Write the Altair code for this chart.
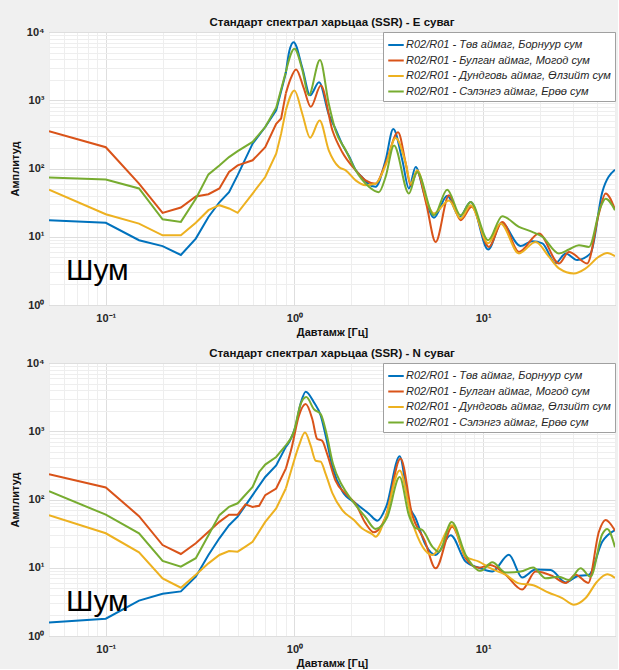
import altair as alt
import pandas as pd

SERIES = [
    "R02/R01 - Төв аймаг, Борнуур сум",
    "R02/R01 - Булган аймаг, Могод сум",
    "R02/R01 - Дундговь аймаг, Өлзийт сум",
    "R02/R01 - Сэлэнгэ аймаг, Ерөө сум",
]
COLORS = ["#0072BD", "#D95319", "#EDB120", "#77AC30"]
TITLES = ["Стандарт спектрал харьцаа (SSR) - E суваг", "Стандарт спектрал харьцаа (SSR) - N суваг"]

# ---- E channel ----
E_BLUE_F = [0.05, 0.1, 0.15, 0.2, 0.25, 0.3, 0.35, 0.4, 0.45, 0.5, 0.6, 0.7, 0.8, 0.9,
            0.94, 0.99, 1.1, 1.21, 1.35, 1.52, 1.65, 1.8, 1.95, 2.11,
            2.29, 2.45, 2.69, 3.04, 3.34, 3.73, 4.04, 4.39, 4.9, 5.49,
            6.45, 7.5, 8.59, 10.64, 12.5, 15.8, 18.2, 20.6, 24.2, 27.4,
            31.5, 37.1, 42.8, 50]
E_BLUE_A = [17.5, 16, 8.9, 7.3, 5.4, 9.4, 19.5, 32, 45, 80, 231, 405, 710, 2500,
            5300, 7100, 3000, 1180, 1840, 620, 380, 220, 150, 95,
            74, 60, 54, 132, 380, 132, 51, 105, 40, 19,
            40, 19.6, 32.4, 6.5, 16, 7.3, 8.6, 8.0, 4.1, 5.7,
            4.55, 5.7, 45, 96]

E_ORANGE_F = [0.05, 0.1, 0.15, 0.2, 0.25, 0.3, 0.35, 0.4, 0.45, 0.5, 0.6, 0.7, 0.8, 0.85, 0.9,
              0.95, 1.02, 1.12, 1.22, 1.38, 1.59, 1.79, 2.11, 2.38, 2.69, 3.04,
              3.54, 3.89, 4.13, 4.47, 5.0, 5.6, 6.59, 7.6, 8.69, 10.73,
              12.62, 15.48, 19.76, 25.23, 28.5, 35.62, 41.09, 44.59, 50]
E_ORANGE_A = [353, 205, 60, 22.4, 26.8, 39, 42, 51, 89, 111, 132, 205, 453, 540, 1260,
              2000, 2830, 1500, 800, 1645, 360, 174, 94, 67, 60, 118,
              340, 118, 57, 89, 30, 8.4, 40.5, 17.5, 27.4, 7.1,
              16.5, 6.0, 11.2, 4.07, 6.0, 4.07, 21.9, 43, 25]

E_YELLOW_F = [0.05, 0.1, 0.15, 0.2, 0.25, 0.3, 0.35, 0.4, 0.45, 0.5, 0.6, 0.7, 0.8, 0.85, 0.9,
              1.0, 1.1, 1.21, 1.36, 1.52, 1.72, 1.87, 2.11, 2.38, 2.69,
              3.04, 3.44, 3.89, 4.13, 4.47, 5.16, 5.49, 6.59, 7.6, 8.59,
              10.64, 12.38, 15.48, 18.97, 22.33, 25.23, 30.29, 34.94, 41.09, 45.47,
              50]
E_YELLOW_A = [49, 21.4, 15.6, 10.5, 10.5, 16, 24.5, 29, 26, 22.4, 43, 75, 165, 324, 710,
              1390, 635, 283, 505, 185, 105, 94, 67, 57, 60,
              111, 280, 118, 60, 94, 27.4, 22, 34, 18.5, 29,
              8, 15.6, 5.7, 8.4, 5.1, 3.44, 2.9, 3.44, 5.1, 5.8,
              5.2]

E_GREEN_F = [0.05, 0.1, 0.15, 0.2, 0.25, 0.3, 0.35, 0.4, 0.45, 0.5, 0.6, 0.7, 0.8, 0.9,
             1.0, 1.1, 1.19, 1.365, 1.52, 1.65, 1.87, 2.11, 2.48, 2.8, 3.04,
             3.37, 4.04, 4.47, 5.49, 6.45, 7.6, 8.59, 10.64, 12.62, 15.48,
             18.2, 20.6, 25.23, 28.5, 32.2, 36.37, 41.95, 44.59, 50]
E_GREEN_A = [74, 69, 51, 18, 16.5, 36, 82, 111, 147, 180, 245, 405, 777, 2600,
             5660, 2800, 1180, 3900, 890, 360, 185, 94, 54, 45, 75,
             218, 43, 89, 20.6, 49, 20.6, 32.4, 8.9, 20, 14,
             11.8, 10, 5.7, 6.5, 7.5, 7.1, 27.4, 36, 24.5]

# ---- N channel ----
N_BLUE_F = [0.05, 0.1, 0.15, 0.2, 0.25, 0.3, 0.35, 0.4, 0.45, 0.5, 0.6, 0.7, 0.8, 0.9,
            0.94, 1.01, 1.08, 1.147, 1.27, 1.38, 1.47, 1.59, 1.79, 2.11,
            2.48, 2.75, 3.07, 3.61, 4.04, 4.39, 4.96, 5.6, 6.73, 8.08,
            9.5, 11.18, 13.7, 16.11, 18.97, 22.8, 27.38, 31.54, 36.37, 42.78,
            50]
N_BLUE_A = [1.58, 1.79, 3.3, 4.15, 4.5, 7.4, 15.4, 27, 42, 56, 116, 214, 316, 590,
            700, 1140, 2600, 3800, 2630, 1680, 815, 300, 133, 88,
            62, 49, 80, 430, 83, 53, 21.5, 15.4, 30, 12.3,
            10, 8.8, 15.5, 7.2, 9.4, 9.3, 6.1, 7.5, 7.9, 24,
            35.6]

N_ORANGE_F = [0.05, 0.1, 0.15, 0.2, 0.25, 0.3, 0.35, 0.4, 0.45, 0.5,
              0.55, 0.6, 0.65, 0.7, 0.8, 0.9, 0.97, 1.056, 1.147, 1.243,
              1.32, 1.40, 1.49, 1.65, 1.87, 2.11, 2.38, 2.64, 3.04, 3.65,
              4.21, 4.9, 5.6, 6.86, 8.08, 9.5, 10.9, 13.16, 16.11, 18.97, 23.24,
              27.38, 30.92, 36.06, 41.09, 44.59, 50]
N_ORANGE_A = [234, 150, 57, 21.5, 15.9, 22.8, 33.7, 47, 60, 60,
              85, 78, 81, 116, 145, 283, 600, 1690, 2500, 1510,
              770, 730, 465, 189, 121, 86, 45, 33, 55, 400,
              59, 25, 9.8, 40, 13.8, 10, 11, 7.9, 4.8, 8.8, 7.6,
              6.0, 7.9, 6.0, 33.7, 50, 35]

N_YELLOW_F = [0.05, 0.1, 0.15, 0.2, 0.25, 0.3, 0.35, 0.4, 0.45, 0.5,
              0.55, 0.6, 0.7, 0.8, 0.9, 0.98, 1.056, 1.137, 1.219, 1.296,
              1.377, 1.463, 1.586, 1.792, 2.067, 2.287, 2.584, 2.69, 3.04, 3.61,
              4.21, 5.38, 6.86, 8.08, 9.5, 10.96, 13.16, 15.48, 18.2, 22.33,
              26.26, 30.29, 34.94, 40.25, 45.47, 50]
N_YELLOW_A = [59, 32, 16.8, 7.0, 5.1, 7.9, 11.6, 15.4, 17.6, 17.2,
              20.4, 24, 47, 74, 145, 320, 615, 960, 615, 370,
              359, 237, 125, 70, 50, 37.5, 31, 28.5, 55, 266,
              47, 15.4, 42, 14.6, 12.3, 9.8, 7.9, 5.9, 5.6, 4.3,
              3.6, 2.88, 3.6, 6.3, 8.0, 7.1]

N_GREEN_F = [0.05, 0.1, 0.15, 0.2, 0.25, 0.3, 0.35, 0.4, 0.45, 0.5,
             0.6, 0.65, 0.7, 0.8, 0.9, 0.994, 1.078, 1.155, 1.269, 1.377,
             1.474, 1.6, 1.79, 2.02, 2.38, 2.69, 3.1, 3.61, 4.04, 4.39,
             4.75, 5.38, 5.83, 6.81, 8.08, 9.7, 11.18, 13.16, 15.8, 18.4,
             21.45, 25.23, 28.5, 32.87, 37.13, 42.78, 45.47, 50]
N_GREEN_A = [132, 60, 32, 12.6, 10.4, 13.8, 30, 59, 78, 88,
             153, 253, 325, 420, 620, 1000, 2500, 3170, 2100, 1780,
             960, 333, 160, 97, 55, 37, 55, 213, 59, 38,
             36, 20.4, 17.2, 47, 15.4, 9.0, 12, 8.5, 8.8, 10.1,
             7.0, 7.4, 6.6, 9.8, 7.4, 31, 37, 20]

NOTE_TEXT = ["Шум"]
NOTE_F = [0.0615]
NOTE_A = [2.32]

X_TICKS = [0.05, 0.06, 0.07, 0.08, 0.09] + [k / 10 for k in range(1, 10)] + list(range(1, 10)) + [10, 20, 30, 40, 50]
Y_TICKS = [m * 10 ** e for e in range(4) for m in range(1, 10)] + [10000]
X_LABELS = "datum.value == 0.1 ? '10⁻¹' : datum.value == 1 ? '10⁰' : datum.value == 10 ? '10¹' : ''"
Y_LABELS = ("datum.value == 1 ? '10⁰' : datum.value == 10 ? '10¹' : datum.value == 100 ? '10²' : "
            "datum.value == 1000 ? '10³' : datum.value == 10000 ? '10⁴' : ''")

PANELS = {
    "E": [(E_BLUE_F, E_BLUE_A), (E_ORANGE_F, E_ORANGE_A), (E_YELLOW_F, E_YELLOW_A), (E_GREEN_F, E_GREEN_A)],
    "N": [(N_BLUE_F, N_BLUE_A), (N_ORANGE_F, N_ORANGE_A), (N_YELLOW_F, N_YELLOW_A), (N_GREEN_F, N_GREEN_A)],
}

FONT = "Liberation Sans"
MAJOR = "indexof([0.1, 1, 10, 100, 1000, 10000], datum.value) >= 0"


def make_panel(key, title):
    rows = []
    for name, (fs, amps) in zip(SERIES, PANELS[key]):
        assert len(fs) == len(amps), (key, name)
        for f, a in zip(fs, amps):
            rows.append({"series": name, "f": f, "A": a})
    df = pd.DataFrame(rows)
    notes = pd.DataFrame({"f": NOTE_F, "A": NOTE_A, "t": NOTE_TEXT})

    x = alt.X("f:Q",
              scale=alt.Scale(type="log", domain=[0.05, 50], nice=False),
              axis=alt.Axis(values=X_TICKS, labelExpr=X_LABELS, title="Давтамж [Гц]",
                            grid=True, ticks=False, domain=False, labelOverlap=False,
                            labelFlush=False, labelPadding=7, titlePadding=3,
                            gridColor={"condition": {"test": MAJOR, "value": "#dedede"}, "value": "#eeeeee"}))
    y = alt.Y("A:Q",
              scale=alt.Scale(type="log", domain=[1, 10000], nice=False),
              axis=alt.Axis(values=Y_TICKS, labelExpr=Y_LABELS, title="Амплитуд",
                            grid=True, ticks=False, domain=False, labelOverlap=False,
                            labelFlush=False, labelPadding=5, titlePadding=6,
                            gridColor={"condition": {"test": MAJOR, "value": "#dedede"}, "value": "#eeeeee"}))
    color = alt.Color("series:N", sort=SERIES,
                      scale=alt.Scale(domain=SERIES, range=COLORS),
                      legend=alt.Legend(title=None, orient="top-right", offset=0, padding=4,
                                        fillColor="white", strokeColor="#a0a0a0",
                                        symbolType="stroke", symbolStrokeWidth=2, symbolSize=240,
                                        labelFont=FONT, labelFontSize=11, labelFontStyle="italic",
                                        labelColor="#262626", rowPadding=1.5, labelOffset=1,
                                        labelLimit=300))
    base = alt.Chart(df)
    low = base.transform_filter("datum.f <= 0.9").mark_line(
        interpolate="linear", strokeWidth=2, clip=True).encode(x=x, y=y, color=color)
    high = base.transform_filter("datum.f >= 0.9").mark_line(
        interpolate="monotone", strokeWidth=2, clip=True).encode(x=x, y=y, color=color)
    txt = alt.Chart(notes).mark_text(align="left", baseline="alphabetic", fontSize=30,
                                     font=FONT, color="black").encode(x=x, y=y, text="t:N")
    return alt.layer(low, high, txt).properties(width=566, height=273, title=title)


chart = alt.vconcat(make_panel("E", TITLES[0]), make_panel("N", TITLES[1]), spacing=9).resolve_legend(
    color="independent"
).properties(
    padding={"left": 8, "top": 16, "right": 2, "bottom": 0},
    background="#f0f0f0",
).configure_view(
    fill="white", stroke="#b0b0b0"
).configure_axis(
    labelFont=FONT, labelFontSize=11, labelFontWeight="bold", labelColor="#262626",
    titleFont=FONT, titleFontSize=11, titleFontWeight="bold", titleColor="#111111",
).configure_title(
    font=FONT, fontSize=11.5, fontWeight="bold", color="#111111", offset=-2, anchor="middle"
)

chart.save("out.html", embed_options={"renderer": "svg", "actions": False})
